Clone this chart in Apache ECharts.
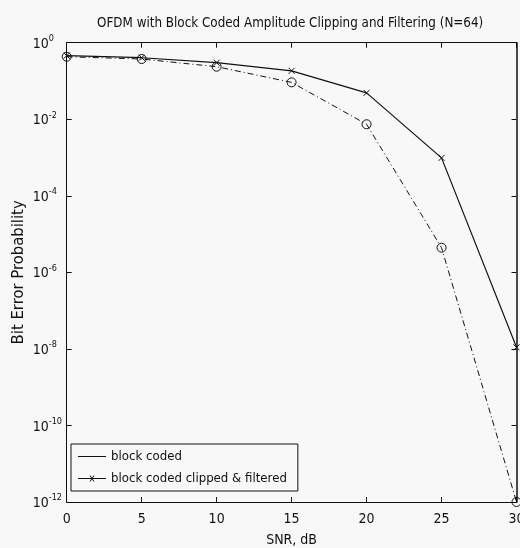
<!DOCTYPE html>
<html>
<head>
<meta charset="utf-8">
<script src="https://cdn.jsdelivr.net/npm/echarts@6/dist/echarts.min.js"></script>
<style>
  html, body { margin: 0; padding: 0; background: #f8f8f8; }
  #chart { width: 520px; height: 548px; }
</style>
</head>
<body>
<div id="chart"></div>
<script>
// SNR in dB
const snr = [0, 5, 10, 15, 20, 25, 30]
// bit error probability
const berBlockCoded = [0.43, 0.375, 0.236, 0.092, 0.0074, 4.4e-6, 1e-12]
const berClipFilt = [0.457, 0.405, 0.30, 0.184, 0.049, 9.8e-4, 1.1e-8]
const xTicks = [0, 5, 10, 15, 20, 25, 30]
const yMin = 1e-12
const yMax = 1

const font = '"Liberation Sans Narrow", "DejaVu Sans Condensed", sans-serif'
const ink = '#111'

const pairs = (xs, ys) => xs.map((x, i) => [x, ys[i]])

const xMarker = 'path://M0,0L10,10M10,0L0,10'
const legendLine = 'path://M0,4.5H28V5.5H0Z'
const legendLineX = 'path://M0,4.5H28V5.5H0Z M11.5,2L12.5,2L16.5,8L15.5,8Z M15.5,2L16.5,2L12.5,8L11.5,8Z'

const chart = echarts.init(document.getElementById('chart'))

const xBase = {
  type: 'value',
  min: xTicks[0],
  max: xTicks[xTicks.length - 1],
  interval: 5,
  axisLine: { onZero: false, lineStyle: { color: ink, width: 1 } },
  axisTick: { inside: true, length: 5, lineStyle: { color: ink } },
  splitLine: { show: false }
}
const yBase = {
  type: 'log',
  logBase: 10,
  min: yMin,
  max: yMax,
  interval: 2,
  axisLine: { show: true, onZero: false, lineStyle: { color: ink, width: 1 } },
  axisTick: { show: true, inside: true, length: 5, lineStyle: { color: ink } },
  splitLine: { show: false },
  minorTick: { show: false }
}

chart.setOption({
  backgroundColor: '#f8f8f8',
  animation: false,
  title: {
    text: 'OFDM with Block Coded Amplitude Clipping and Filtering (N=64)',
    left: 92,
    top: 12,
    textStyle: { fontFamily: font, fontSize: 13.3, fontWeight: 'normal', color: ink }
  },
  grid: { left: 66.7, right: 3.5, top: 42.7, bottom: 46, outerBoundsMode: 'none' },
  legend: {
    orient: 'vertical',
    left: 71,
    top: 444,
    selectedMode: false,
    backgroundColor: '#f8f8f8',
    borderColor: ink,
    borderWidth: 1,
    padding: [6, 11, 6, 7],
    itemGap: 9,
    itemWidth: 28,
    itemHeight: 10,
    itemStyle: { color: ink, borderWidth: 0 },
    textStyle: { fontFamily: font, fontSize: 13.1, color: ink },
    data: [
      { name: 'block coded', icon: legendLine },
      { name: 'block coded clipped & filtered', icon: legendLineX }
    ]
  },
  xAxis: [
    Object.assign({}, xBase, {
      position: 'bottom',
      name: 'SNR, dB',
      nameLocation: 'middle',
      nameGap: 31,
      nameMoveOverlap: false,
      nameTextStyle: { fontFamily: font, fontSize: 14, color: ink },
      axisLabel: { margin: 10, fontFamily: font, fontSize: 14, color: ink }
    }),
    Object.assign({}, xBase, { position: 'top', axisLabel: { show: false } })
  ],
  yAxis: [
    Object.assign({}, yBase, {
      position: 'left',
      name: 'Bit Error Probability',
      nameLocation: 'middle',
      nameGap: 39,
      nameMoveOverlap: false,
      nameTextStyle: { fontFamily: font, fontSize: 16.5, color: ink },
      axisLabel: {
        margin: 34,
        align: 'left',
        formatter: v => '{b|10}{s|' + Math.round(Math.log10(v)) + '}',
        rich: {
          b: { fontFamily: font, fontSize: 14, color: ink, verticalAlign: 'bottom' },
          s: { fontFamily: font, fontSize: 9, color: ink, verticalAlign: 'top', padding: [0, 0, 8, 0] }
        }
      }
    }),
    Object.assign({}, yBase, {
      position: 'right',
      axisLine: { show: true, onZero: false, lineStyle: { color: ink, width: 1.5 } },
      axisLabel: { show: false }
    })
  ],
  series: [
    {
      name: 'block coded clipped & filtered',
      type: 'line',
      data: pairs(snr, berClipFilt),
      symbol: xMarker,
      symbolSize: 6,
      itemStyle: { color: 'none', borderColor: ink, borderWidth: 1 },
      lineStyle: { color: ink, width: 1.2, type: 'solid' },
      z: 3
    },
    {
      name: 'block coded',
      type: 'line',
      data: pairs(snr, berBlockCoded),
      symbol: 'circle',
      symbolSize: 9,
      itemStyle: { color: 'none', borderColor: ink, borderWidth: 1 },
      lineStyle: { color: ink, width: 1, type: [6, 3, 1, 3] },
      z: 2
    }
  ]
})
</script>
</body>
</html>
